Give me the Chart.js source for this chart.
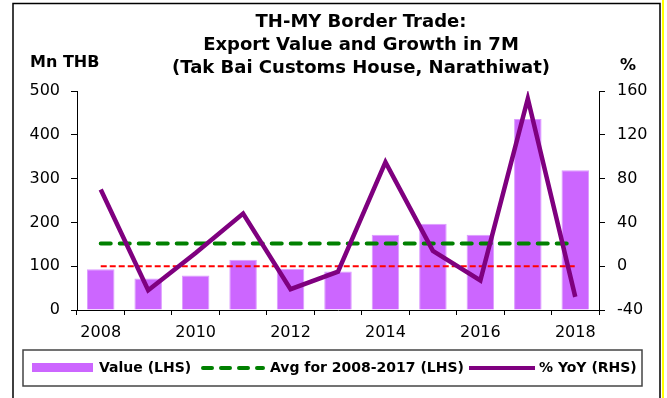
<!DOCTYPE html>
<html>
<head>
<meta charset="utf-8">
<title>TH-MY Border Trade: Export Value and Growth in 7M</title>
<script src="https://cdn.jsdelivr.net/npm/chart.js@4/dist/chart.umd.min.js"></script>
<style>
  html, body { margin: 0; padding: 0; background: #ffffff; }
  canvas { display: block; }
</style>
</head>
<body>
<canvas id="chart" width="667" height="398"></canvas>
<script>
// Tak Bai Customs House (Narathiwat): export value in Jan-Jul of each year
const years = ['2008', '2009', '2010', '2011', '2012', '2013', '2014', '2015', '2016', '2017', '2018'];
const exportValue = [93, 72, 79, 115, 94, 88, 172, 197, 172, 436, 319];   // Mn THB
const yoyGrowth = [70, -22, 12, 48, -21, -5, 95, 14, -13, 153, -28];       // % YoY

// Axis ranges
const lhsRange = { min: 0, max: 500, step: 100 };
const rhsRange = { min: -40, max: 160, step: 40 };

// Average over 2008-2017 (LHS) and the 0% reference (RHS)
const avgYears = exportValue.slice(0, 10);
const avgValue = avgYears.reduce((a, b) => a + b, 0) / avgYears.length;
const avgLine = years.map(() => avgValue);
const zeroLine = years.map(() => 0);

const titleLines = ['TH-MY Border Trade:', 'Export Value and Growth in 7M', '(Tak Bai Customs House, Narathiwat)'];
const legendItems = ['Value (LHS)', 'Avg for 2008-2017 (LHS)', '% YoY (RHS)'];

const FONT = '"DejaVu Sans", "Liberation Sans", Arial, sans-serif';
const BAR_COLOR = '#cc66ff';
const AVG_COLOR = '#008000';
const YOY_COLOR = '#7f007f';

Chart.defaults.font.family = FONT;
Chart.defaults.color = '#000000';

// White page, chart frame
const framePlugin = {
  id: 'frame',
  beforeDraw(chart) {
    const ctx = chart.ctx;
    ctx.save();
    ctx.fillStyle = '#ffffff';
    ctx.fillRect(0, 0, chart.width, chart.height);
    ctx.strokeStyle = '#000000';
    ctx.lineWidth = 1.5;
    ctx.beginPath();
    ctx.moveTo(13, chart.height + 2);
    ctx.lineTo(13, 3.5);
    ctx.lineTo(660, 3.5);
    ctx.lineTo(660, chart.height + 2);
    ctx.stroke();
    ctx.strokeStyle = '#ffff00';
    ctx.lineWidth = 2;
    ctx.beginPath();
    ctx.moveTo(663, 0);
    ctx.lineTo(663, chart.height);
    ctx.stroke();
    ctx.restore();
  }
};

// Title, unit labels and legend box
const textPlugin = {
  id: 'texts',
  afterDraw(chart) {
    const ctx = chart.ctx;
    ctx.save();
    ctx.fillStyle = '#000000';
    ctx.textBaseline = 'alphabetic';

    ctx.font = 'bold 18px ' + FONT;
    ctx.textAlign = 'center';
    const baselines = [27, 50, 73];
    titleLines.forEach((t, i) => ctx.fillText(t, 361, baselines[i]));

    ctx.font = 'bold 16px ' + FONT;
    ctx.textAlign = 'left';
    ctx.fillText('Mn THB', 30, 67);
    ctx.textAlign = 'center';
    ctx.fillText('%', 628, 70);

    // legend
    ctx.strokeStyle = '#444444';
    ctx.lineWidth = 1.5;
    ctx.strokeRect(23, 350, 619, 36);

    const cy = 368;
    ctx.fillStyle = BAR_COLOR;
    ctx.fillRect(32, 363, 61, 9);

    ctx.strokeStyle = AVG_COLOR;
    ctx.lineWidth = 4;
    ctx.lineCap = 'round';
    ctx.setLineDash([9, 9]);
    ctx.beginPath();
    ctx.moveTo(203, cy);
    ctx.lineTo(263, cy);
    ctx.stroke();
    ctx.setLineDash([]);

    ctx.strokeStyle = YOY_COLOR;
    ctx.lineCap = 'butt';
    ctx.lineWidth = 4;
    ctx.beginPath();
    ctx.moveTo(469, cy);
    ctx.lineTo(535, cy);
    ctx.stroke();

    ctx.fillStyle = '#000000';
    ctx.font = 'bold 14px ' + FONT;
    ctx.textAlign = 'left';
    ctx.textBaseline = 'middle';
    ctx.fillText(legendItems[0], 99, cy);
    ctx.fillText(legendItems[1], 270, cy);
    ctx.fillText(legendItems[2], 539, cy);
    ctx.restore();
  }
};

new Chart(document.getElementById('chart'), {
  type: 'bar',
  data: {
    labels: years,
    datasets: [
      {
        label: legendItems[2],
        type: 'line',
        data: yoyGrowth,
        yAxisID: 'y1',
        borderColor: YOY_COLOR,
        borderWidth: 4.5,
        pointRadius: 0,
        tension: 0,
        fill: false,
        order: 1
      },
      {
        label: '0%',
        type: 'line',
        data: zeroLine,
        yAxisID: 'y1',
        borderColor: '#ff0000',
        borderWidth: 2,
        borderDash: [6, 3],
        pointRadius: 0,
        fill: false,
        order: 2
      },
      {
        label: legendItems[1],
        type: 'line',
        data: avgLine,
        yAxisID: 'y',
        borderColor: AVG_COLOR,
        borderWidth: 4,
        borderDash: [10, 9],
        borderCapStyle: 'round',
        pointRadius: 0,
        fill: false,
        order: 3
      },
      {
        label: legendItems[0],
        type: 'bar',
        data: exportValue,
        yAxisID: 'y',
        backgroundColor: BAR_COLOR,
        borderColor: '#dc9cff',
        borderWidth: 1,
        categoryPercentage: 1,
        barPercentage: 0.58,
        order: 4
      }
    ]
  },
  options: {
    responsive: false,
    animation: false,
    layout: { padding: { left: 0, right: 0, top: 91, bottom: 48 } },
    plugins: {
      legend: { display: false },
      title: { display: false },
      tooltip: { enabled: false }
    },
    scales: {
      x: {
        offset: true,
        grid: { display: true, drawOnChartArea: false, drawTicks: true, tickLength: 5, color: '#000000', offset: true },
        border: { display: true, color: '#000000', width: 1 },
        ticks: {
          autoSkip: false,
          maxRotation: 0,
          padding: 8,
          font: { size: 16 },
          color: '#000000',
          callback: (v, i) => (i % 2 === 0 ? years[i] : '')
        },
        afterFit: (s) => { s.height = 40; }
      },
      y: {
        position: 'left',
        min: lhsRange.min,
        max: lhsRange.max,
        grid: { display: true, drawOnChartArea: false, drawTicks: true, tickLength: 6, color: '#000000' },
        border: { display: true, color: '#000000', width: 1 },
        ticks: { stepSize: lhsRange.step, padding: 11, font: { size: 16 }, color: '#000000' },
        afterFit: (s) => { s.width = 77; }
      },
      y1: {
        position: 'right',
        min: rhsRange.min,
        max: rhsRange.max,
        grid: { display: true, drawOnChartArea: false, drawTicks: true, tickLength: 6, color: '#000000' },
        border: { display: true, color: '#000000', width: 1 },
        ticks: { stepSize: rhsRange.step, padding: 12, font: { size: 16 }, color: '#000000' },
        afterFit: (s) => { s.width = 68; }
      }
    }
  },
  plugins: [framePlugin, textPlugin]
});
</script>
</body>
</html>
